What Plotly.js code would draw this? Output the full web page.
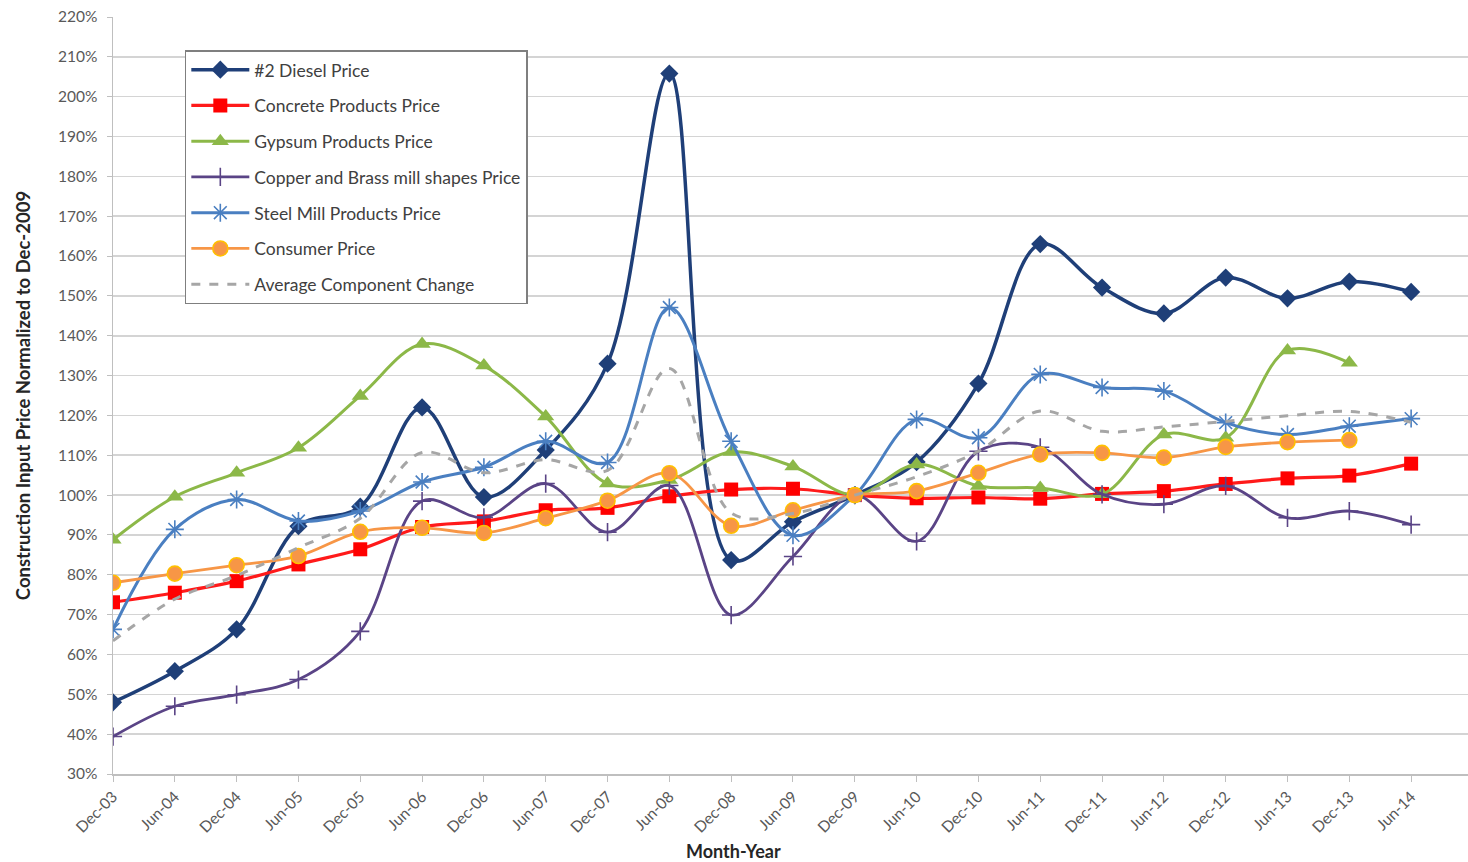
<!DOCTYPE html>
<html>
<head>
<meta charset="utf-8">
<script src="https://cdn.plot.ly/plotly-3.0.1.min.js"></script>
<style>
  html, body { margin: 0; padding: 0; background: #ffffff; }
  #chart { width: 1468px; height: 862px; }
</style>
</head>
<body>
<div id="chart"></div>
<script>
// Semi-annual observation dates
const months = ["Dec-03","Jun-04","Dec-04","Jun-05","Dec-05","Jun-06","Dec-06","Jun-07","Dec-07","Jun-08","Dec-08",
                "Jun-09","Dec-09","Jun-10","Dec-10","Jun-11","Dec-11","Jun-12","Dec-12","Jun-13","Dec-13","Jun-14"];

// Price indices, percent of the Dec-2009 level
const diesel   = [48, 55.8, 66.3, 92.2, 97.1, 122, 99.5, 111.3, 133, 205.8, 83.7, 93.3, 100, 108.3, 128, 163, 152.1, 145.6, 154.6, 149.4, 153.6, 151];
const concrete = [73.1, 75.5, 78.4, 82.6, 86.4, 92, 93.4, 96.2, 96.8, 99.7, 101.4, 101.6, 100, 99.2, 99.4, 99.1, 100.3, 101, 102.8, 104.2, 104.9, 107.9];
const gypsum   = [88.8, 99.6, 105.6, 111.9, 124.9, 137.9, 132.5, 119.7, 102.9, 103.8, 110.8, 107.2, 100, 107.7, 102.3, 101.8, 100.2, 115.2, 114.4, 136.3, 133.2, null];
const copper   = [39.4, 47, 49.9, 53.7, 65.8, 98.5, 94.4, 102.9, 90.7, 102.4, 69.9, 84.6, 100, 88.4, 111, 112, 100.2, 97.7, 102.3, 94.3, 96, 92.6];
const steel    = [66.3, 91.4, 98.9, 93.5, 96, 103.3, 107, 113.5, 108.2, 147.1, 113.5, 89.9, 100, 119, 114.4, 130.3, 127, 126.1, 118.2, 115.2, 117.3, 119.2];
const consumer = [78, 80.3, 82.4, 84.7, 90.8, 91.8, 90.5, 94.2, 98.6, 105.5, 92.3, 96.2, 100, 101, 105.6, 110.2, 110.6, 109.4, 112.1, 113.3, 113.8, null];
const average  = [63.4, 73.9, 79.8, 86.8, 94.2, 110.7, 105.6, 108.9, 106.2, 131.8, 95.5, 95.4, 100, 104.6, 111, 121.1, 116, 117.1, 118.5, 119.9, 121, 118.3];

const seriesNames = ["#2 Diesel Price", "Concrete Products Price", "Gypsum Products Price",
                     "Copper and Brass mill shapes Price", "Steel Mill Products Price",
                     "Consumer Price", "Average Component Change"];

const FONT = "Lato, 'Open Sans', 'DejaVu Sans', sans-serif";

function series(name, y, line, marker) {
  const t = {
    type: "scatter",
    mode: marker ? "lines+markers" : "lines",
    name: name,
    legendgroup: name,
    x: months,
    y: y,
    line: Object.assign({ shape: "spline", smoothing: 1 }, line),
    hoverinfo: "x+y+name"
  };
  if (marker) t.marker = marker;
  return t;
}

const traces = [
  series(seriesNames[0], diesel, { color: "#1f3f78", width: 3.5 },
         { symbol: "diamond", size: 14, color: "#1f3f78" }),
  series(seriesNames[1], concrete, { color: "#ff1a1a", width: 3.2 },
         { symbol: "square", size: 14, color: "#ff0000" }),
  series(seriesNames[2], gypsum, { color: "#8cb848", width: 3 },
         { symbol: "triangle-up", size: 15, color: "#8cb848" }),
  series(seriesNames[3], copper, { color: "#5a4486", width: 2.8 },
         { symbol: "cross-thin", size: 13, color: "#5a4486", line: { width: 1.6, color: "#5a4486" } }),
  series(seriesNames[4], steel, { color: "#4a7fc1", width: 3 },
         { symbol: "asterisk", size: 15, color: "#4a7fc1", line: { width: 1.6, color: "#4a7fc1" } }),
  series(seriesNames[5], consumer, { color: "#f79646", width: 2.8 },
         { symbol: "circle", size: 15, color: "#f79646", line: { width: 1.6, color: "#ffc000" } }),
  series(seriesNames[6], average, { color: "#a6a6a6", width: 3, dash: "dash" }, null)
];

const layout = {
  width: 1468,
  height: 862,
  paper_bgcolor: "#ffffff",
  plot_bgcolor: "#ffffff",
  margin: { l: 113, r: 0, t: 17, b: 88 },
  font: { family: FONT, color: "#595959", size: 15 },
  showlegend: true,
  legend: {
    x: 0.053, y: 0.956, xanchor: "left", yanchor: "top",
    bgcolor: "#ffffff", bordercolor: "#7f7f7f", borderwidth: 1.5,
    font: { family: FONT, size: 17.5, color: "#404040" },
    traceorder: "grouped", tracegroupgap: 10, itemwidth: 58
  },
  xaxis: {
    type: "category",
    range: [0, 21.92],
    showgrid: false,
    showline: true, linecolor: "#bfbfbf", linewidth: 1.5,
    ticks: "outside", ticklen: 6, tickcolor: "#bfbfbf",
    tickangle: -45,
    tickfont: { family: FONT, size: 15.5, color: "#595959" },
    zeroline: false
  },
  yaxis: {
    range: [30, 220],
    dtick: 10,
    ticksuffix: "%",
    showgrid: true, gridcolor: "#d4d4d4", gridwidth: 1.6,
    showline: true, linecolor: "#bfbfbf", linewidth: 1.5,
    ticks: "outside", ticklen: 5, tickcolor: "#bfbfbf",
    ticklabelstandoff: 6,
    tickfont: { family: FONT, size: 15.5, color: "#595959" },
    title: { text: "Construction Input Price Normalized to Dec-2009",
             font: { family: FONT, size: 18.5, color: "#262626", weight: "bold" }, standoff: 22 },
    zeroline: false
  },
  annotations: [{
    text: "Month-Year",
    xref: "paper", yref: "paper",
    x: 0.4576, y: -0.1017, xanchor: "center", yanchor: "middle",
    showarrow: false,
    font: { family: FONT, size: 18, color: "#262626", weight: "bold" }
  }]
};

Plotly.newPlot("chart", traces, layout, { displayModeBar: false, staticPlot: true });
</script>
</body>
</html>
